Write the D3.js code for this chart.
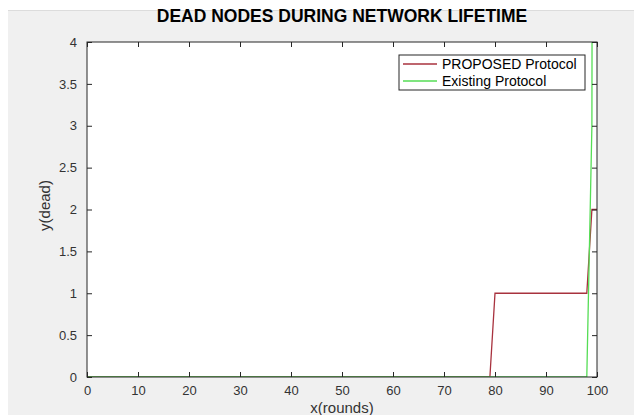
<!DOCTYPE html>
<html>
<head>
<meta charset="utf-8">
<script src="https://cdn.jsdelivr.net/npm/d3@7/dist/d3.min.js"></script>
<style>
  body { margin: 0; background: #fff; }
  svg { display: block; font-family: "Liberation Sans", Arial, sans-serif; }
</style>
</head>
<body>
<svg id="chart" width="634" height="415"></svg>
<script>
// vertices of the two curves
var proposedRounds = [0, 79, 80, 98, 99, 100];
var proposedDead   = [0, 0, 1, 1, 2, 2];
var existingRounds = [0, 98, 99, 100];
var existingDead   = [0, 0, 3, 40];

var xTicks = [0, 10, 20, 30, 40, 50, 60, 70, 80, 90, 100];
var yTicks = [0, 0.5, 1, 1.5, 2, 2.5, 3, 3.5, 4];

var seriesNames = ["PROPOSED Protocol", "Existing Protocol"];
var seriesColors = ["#a8323e", "#55dd55"];

var svg = d3.select("#chart"),
    margin = {top: 42, right: 37, bottom: 38, left: 87},
    width = +svg.attr("width") - margin.left - margin.right,
    height = +svg.attr("height") - margin.top - margin.bottom;

// figure background like matlab
svg.append("rect").attr("x", 8).attr("y", 10).attr("width", 626).attr("height", 405).attr("fill", "#f0f0f0");
svg.append("line").attr("x1", 8).attr("x2", 634).attr("y1", 10.5).attr("y2", 10.5).attr("stroke", "#dcdcdc");

var g = svg.append("g").attr("transform", "translate(" + margin.left + "," + margin.top + ")");

var x = d3.scaleLinear().domain([0, 100]).range([0, width]);
var y = d3.scaleLinear().domain([0, 4]).range([height, 0]);

g.append("rect").attr("width", width).attr("height", height).attr("fill", "#fff");

svg.append("defs").append("clipPath").attr("id", "clip")
  .append("rect").attr("width", width).attr("height", height);

var line = d3.line()
    .x(function(d) { return x(d[0]); })
    .y(function(d) { return y(d[1]); });

var series = [
  d3.zip(proposedRounds, proposedDead),
  d3.zip(existingRounds, existingDead)
];

g.append("g").attr("clip-path", "url(#clip)")
  .selectAll("path")
  .data(series)
  .enter().append("path")
    .attr("fill", "none")
    .attr("stroke", function(d, i) { return seriesColors[i]; })
    .attr("stroke-width", 1.3)
    .attr("d", line);

// axes, ticks pointing inwards on all four sides
var axisColor = "#262626";
function styleAxis(sel) {
  sel.select(".domain").remove();
  sel.selectAll("line").attr("stroke", axisColor);
  sel.selectAll("text").attr("fill", "#333").style("font-size", "13px");
}

g.append("g")
    .attr("transform", "translate(0," + height + ")")
    .call(d3.axisBottom(x).tickValues(xTicks).tickSizeInner(-5).tickSizeOuter(0).tickPadding(9))
    .call(styleAxis);

g.append("g")
    .call(d3.axisTop(x).tickValues(xTicks).tickSizeInner(-5).tickSizeOuter(0).tickFormat(""))
    .call(styleAxis);

g.append("g")
    .call(d3.axisLeft(y).tickValues(yTicks).tickSizeInner(-5).tickSizeOuter(0).tickPadding(10)
      .tickFormat(function(d) { return String(d); }))
    .call(styleAxis);

g.append("g")
    .attr("transform", "translate(" + width + ",0)")
    .call(d3.axisRight(y).tickValues(yTicks).tickSizeInner(-5).tickSizeOuter(0).tickFormat(""))
    .call(styleAxis);

g.append("rect")
    .attr("width", width).attr("height", height)
    .attr("fill", "none").attr("stroke", axisColor).attr("stroke-width", 1);

// title and labels
svg.append("text")
    .attr("x", margin.left + width / 2).attr("y", 22)
    .attr("text-anchor", "middle")
    .attr("font-weight", "bold").attr("font-size", 17.5)
    .attr("fill", "#000")
    .text("DEAD NODES DURING NETWORK LIFETIME");

svg.append("text")
    .attr("x", margin.left + width / 2).attr("y", 413)
    .attr("text-anchor", "middle").attr("font-size", 15)
    .attr("fill", "#333")
    .text("x(rounds)");

svg.append("text")
    .attr("transform", "translate(50," + (margin.top + height / 2 - 4) + ") rotate(-90)")
    .attr("text-anchor", "middle").attr("font-size", 15)
    .attr("fill", "#333")
    .text("y(dead)");

// legend
var legend = svg.append("g").attr("transform", "translate(399,55)");
legend.append("rect")
    .attr("width", 186).attr("height", 35)
    .attr("fill", "#fff").attr("stroke", axisColor);

var items = legend.selectAll(".item")
  .data(seriesNames)
  .enter().append("g")
    .attr("transform", function(d, i) { return "translate(0," + (9 + i * 17) + ")"; });

items.append("line")
    .attr("x1", 4).attr("x2", 38)
    .attr("stroke", function(d, i) { return seriesColors[i]; })
    .attr("stroke-width", 1.3);

items.append("text")
    .attr("x", 43).attr("dy", "0.35em")
    .attr("font-size", 14).attr("fill", "#000")
    .text(function(d) { return d; });
</script>
</body>
</html>
